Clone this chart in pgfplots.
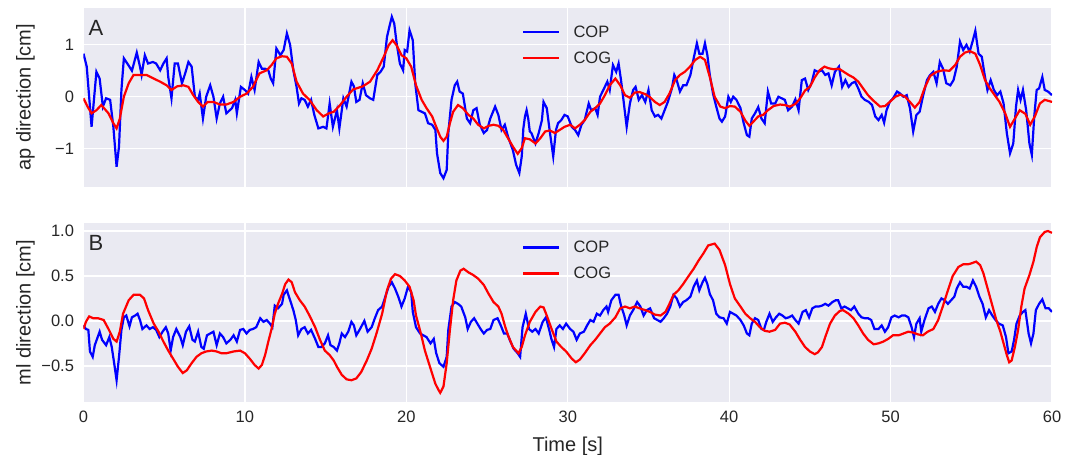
\documentclass[border=0pt]{standalone}
\usepackage{fontspec}
\setmainfont{Liberation Sans}
\usepackage{pgfplots}
\pgfplotsset{compat=1.18}
\definecolor{bg}{HTML}{EAEAF2}
\definecolor{txt}{HTML}{262626}
\pgfplotsset{
 sbstyle/.style={
  width=968.5pt, height=178.5pt, scale only axis,
  xmin=0, xmax=60,
  axis background/.style={fill=bg},
  axis line style={draw=none},
  grid=major, major grid style={white, line width=1.3pt},
  major tick length=0pt,
  tick style={draw=none},
  xtick={0,10,20,30,40,50,60},
  ticklabel style={font=\fontsize{16.5}{19}\selectfont, text=txt},
  yticklabel style={xshift=-6pt},
  xticklabel style={yshift=-6pt},
  label style={font=\fontsize{20}{24}\selectfont, text=txt},
  ylabel style={at={(axis description cs:-0.0599,0.5)}, anchor=center},
  legend style={at={(axis description cs:0.5,1)}, anchor=north, draw=none, fill=none,
    font=\fontsize{16.5}{19}\selectfont, text=txt, inner sep=0pt,
    nodes={inner sep=0pt}, row sep=13pt, column sep=13pt, yshift=-17.5pt, xshift=-1pt},
  legend cell align=left,
  legend image code/.code={\draw[#1] (0pt,0pt) -- (36pt,0pt);},
 },
 cop/.style={blue, line width=2.2pt},
 cog/.style={red, line width=2.2pt},
}
\begin{document}
\begin{tikzpicture}
\useasboundingbox (0,0) rectangle (1076pt,-455pt);
\begin{axis}[sbstyle, at={(83.5pt,-8pt)}, anchor=north west,
  ymin=-1.73, ymax=1.71, ytick={-1,0,1}, yticklabels={−1,0,1},
  xticklabels={,,,,,,},
  ylabel={ap direction [cm]}]
\addplot[cop] coordinates {(0,0.83)(0.2,0.58)(0.5,-0.58)(0.8,0.48)(1.0,0.35)(1.2,-0.19)(1.4,-0.03)(1.65,-0.06)(1.85,-0.58)(2.05,-1.35)(2.2,-0.96)(2.35,0.13)(2.5,0.74)(2.8,0.6)(3.0,0.5)(3.3,0.85)(3.5,0.58)(3.6,0.42)(3.8,0.8)(4.0,0.64)(4.3,0.67)(4.5,0.64)(4.75,0.51)(4.95,0.64)(5.15,0.74)(5.25,0.38)(5.45,-0.03)(5.65,0.64)(5.85,0.64)(6.1,0.26)(6.3,0.45)(6.5,0.67)(6.7,0.58)(6.9,0)(7.1,-0.06)(7.2,0.06)(7.4,-0.42)(7.6,0)(7.85,0.22)(8.05,0)(8.25,-0.42)(8.45,-0.13)(8.65,0)(8.85,-0.32)(9.2,-0.22)(9.4,-0.06)(9.5,-0.32)(9.75,0.19)(10.0,0.13)(10.2,0.06)(10.4,0.38)(10.6,0.13)(10.85,0.67)(11.05,0.54)(11.25,0.54)(11.45,0.51)(11.6,0.35)(11.75,0.26)(11.95,0.93)(12.2,0.8)(12.4,0.9)(12.6,1.22)(12.8,1.0)(13.0,0.51)(13.2,0.19)(13.35,-0.13)(13.5,-0.03)(13.7,-0.06)(13.9,-0.19)(14.1,-0.06)(14.3,-0.35)(14.55,-0.61)(14.85,-0.58)(15.05,-0.61)(15.25,-0.13)(15.45,-0.58)(15.7,-0.26)(15.85,-0.61)(16.1,-0.03)(16.3,-0.19)(16.6,0.29)(16.75,0.2)(16.9,-0.1)(17.1,-0.06)(17.3,0.26)(17.5,0.03)(17.75,-0.03)(17.95,-0.06)(18.2,0.42)(18.4,0.48)(18.6,0.58)(18.8,1.15)(18.95,1.35)(19.1,1.54)(19.25,1.41)(19.4,1.03)(19.6,0.64)(19.8,0.51)(19.9,0.9)(20.05,0.87)(20.2,1.28)(20.4,1.09)(20.55,0.26)(20.75,-0.26)(20.95,-0.29)(21.15,-0.32)(21.35,-0.51)(21.6,-0.54)(21.8,-0.64)(21.9,-1.09)(22.1,-1.47)(22.3,-1.57)(22.5,-1.41)(22.6,-0.7)(22.8,-0.06)(23.0,0.22)(23.15,0.29)(23.3,0.1)(23.5,0.06)(23.75,-0.42)(23.95,-0.51)(24.15,-0.26)(24.35,-0.22)(24.55,-0.54)(24.8,-0.7)(25.0,-0.64)(25.2,-0.42)(25.5,-0.19)(25.7,-0.35)(25.9,-0.64)(26.1,-0.54)(26.3,-0.77)(26.6,-1.03)(26.8,-1.31)(27.0,-1.47)(27.15,-1.15)(27.25,-0.61)(27.35,-0.38)(27.45,-0.26)(27.55,-0.42)(27.65,-0.67)(27.75,-0.7)(28.0,-0.9)(28.2,-0.7)(28.4,-0.45)(28.5,-0.1)(28.7,-0.22)(28.9,-0.7)(29.1,-1.15)(29.27,-0.64)(29.4,-0.51)(29.6,-0.45)(29.8,-0.35)(30.0,-0.38)(30.25,-0.58)(30.45,-0.64)(30.65,-0.74)(30.85,-0.54)(31.05,-0.45)(31.3,-0.13)(31.45,-0.26)(31.7,-0.22)(31.85,-0.35)(32.0,0)(32.25,0.16)(32.45,0.29)(32.6,0.13)(32.8,0.61)(33.0,0.48)(33.15,0.64)(33.3,0.32)(33.45,-0.06)(33.65,-0.58)(33.85,-0.13)(34.05,0.13)(34.2,0.19)(34.4,-0.06)(34.6,0.03)(34.8,-0.1)(35.0,0.13)(35.2,-0.26)(35.4,-0.38)(35.6,-0.35)(35.8,-0.42)(36.0,-0.26)(36.2,-0.1)(36.45,0.16)(36.6,0.42)(36.75,0.32)(36.95,0.1)(37.15,0.22)(37.35,0.22)(37.6,0.42)(37.8,0.74)(38.0,1.03)(38.15,0.83)(38.35,0.83)(38.5,1.03)(38.65,0.8)(38.8,0.42)(39.0,0.06)(39.2,-0.19)(39.4,-0.42)(39.55,-0.48)(39.75,-0.38)(39.95,0)(40.1,-0.1)(40.25,0)(40.45,-0.06)(40.7,-0.22)(40.9,-0.51)(41.1,-0.74)(41.25,-0.77)(41.4,-0.42)(41.6,-0.32)(41.8,-0.2)(42.0,-0.42)(42.2,-0.51)(42.4,0.1)(42.6,-0.13)(42.85,-0.13)(43.05,0)(43.25,-0.03)(43.45,-0.06)(43.65,-0.26)(43.9,-0.19)(44.1,-0.05)(44.3,-0.26)(44.5,0.32)(44.7,0.35)(44.9,0.13)(45.1,0.26)(45.3,0.51)(45.5,0.48)(45.75,0.51)(45.95,0.42)(46.15,0.45)(46.35,0.22)(46.55,0.48)(46.8,0.58)(47.0,0.19)(47.2,0.32)(47.4,0.19)(47.6,0.26)(47.8,0.29)(48.0,0.16)(48.2,0)(48.4,-0.06)(48.65,-0.1)(48.85,-0.16)(49.05,-0.38)(49.25,-0.45)(49.45,-0.35)(49.6,-0.5)(49.75,-0.26)(49.95,-0.1)(50.15,-0.03)(50.4,0.1)(50.6,0.06)(50.8,0)(51.0,0.03)(51.2,-0.22)(51.4,-0.67)(51.6,-0.35)(51.8,-0.29)(52.0,0)(52.25,0.32)(52.45,0.42)(52.65,0.48)(52.85,0.26)(53.05,0.67)(53.25,0.54)(53.45,0.26)(53.7,0.22)(53.9,0.32)(54.1,0.58)(54.3,1.06)(54.5,0.9)(54.7,1.0)(54.9,0.87)(55.1,1.09)(55.25,1.27)(55.45,0.83)(55.65,0.77)(55.85,0.38)(56.0,0.13)(56.2,0.32)(56.4,0.13)(56.6,0.03)(56.8,0.1)(57.0,-0.13)(57.2,-0.7)(57.4,-1.09)(57.6,-0.9)(57.77,-0.19)(57.9,0.13)(58.05,-0.06)(58.2,0.13)(58.4,-0.26)(58.6,-0.9)(58.75,-1.12)(58.9,-0.38)(59.05,0.13)(59.2,0.16)(59.4,0.38)(59.55,0.13)(59.75,0.1)(60.0,0.03)};
\addlegendentry{COP}
\addplot[cog] coordinates {(0,-0.03)(0.25,-0.19)(0.5,-0.32)(0.8,-0.26)(1.1,-0.16)(1.55,-0.32)(1.85,-0.51)(2.05,-0.61)(2.25,-0.42)(2.5,0)(2.8,0.26)(3.1,0.42)(3.5,0.42)(3.9,0.42)(4.35,0.35)(4.75,0.29)(5.15,0.22)(5.45,0.13)(5.8,0.2)(6.2,0.22)(6.5,0.19)(6.8,0.03)(7.1,-0.1)(7.4,-0.19)(7.7,-0.1)(8.05,-0.1)(8.45,-0.15)(8.85,-0.15)(9.3,-0.1)(9.7,0)(10.1,0.06)(10.5,0.19)(10.9,0.45)(11.35,0.51)(11.65,0.61)(11.95,0.74)(12.3,0.78)(12.6,0.77)(12.9,0.64)(13.2,0.29)(13.6,0.06)(14.0,-0.06)(14.45,-0.26)(14.85,-0.38)(15.2,-0.32)(15.5,-0.29)(15.9,-0.16)(16.3,0)(16.7,0.14)(16.9,0.16)(17.3,0.2)(17.75,0.29)(18.2,0.51)(18.6,0.77)(18.9,0.99)(19.15,1.09)(19.4,0.99)(19.7,0.8)(20.0,0.74)(20.3,0.58)(20.6,0.22)(20.95,-0.06)(21.25,-0.22)(21.6,-0.38)(21.85,-0.58)(22.1,-0.77)(22.3,-0.85)(22.5,-0.77)(22.7,-0.51)(22.9,-0.29)(23.2,-0.16)(23.5,-0.22)(23.85,-0.35)(24.15,-0.42)(24.45,-0.54)(24.8,-0.61)(25.1,-0.56)(25.4,-0.54)(25.7,-0.56)(26.0,-0.64)(26.3,-0.8)(26.6,-0.96)(26.9,-1.1)(27.15,-0.99)(27.35,-0.8)(27.65,-0.82)(28.0,-0.9)(28.3,-0.8)(28.6,-0.67)(28.9,-0.65)(29.2,-0.7)(29.5,-0.64)(29.8,-0.58)(30.15,-0.54)(30.45,-0.61)(30.75,-0.54)(31.05,-0.45)(31.4,-0.29)(31.7,-0.22)(32.0,-0.13)(32.3,0.03)(32.6,0.22)(32.95,0.35)(33.25,0.22)(33.55,0.03)(33.85,-0.02)(34.15,0.08)(34.45,0.09)(34.8,0.05)(35.1,-0.01)(35.4,-0.1)(35.7,-0.16)(36.0,-0.1)(36.3,0.06)(36.65,0.32)(36.95,0.42)(37.25,0.48)(37.6,0.59)(37.9,0.71)(38.2,0.77)(38.5,0.71)(38.8,0.38)(39.1,0)(39.45,-0.19)(39.75,-0.22)(40.05,-0.18)(40.35,-0.19)(40.7,-0.29)(41.0,-0.46)(41.25,-0.56)(41.5,-0.48)(41.8,-0.38)(42.1,-0.35)(42.4,-0.26)(42.75,-0.18)(43.15,-0.15)(43.45,-0.16)(43.75,-0.19)(44.1,-0.14)(44.4,-0.03)(44.7,0.12)(45.0,0.19)(45.3,0.37)(45.6,0.51)(45.9,0.58)(46.15,0.55)(46.45,0.53)(46.8,0.54)(47.1,0.48)(47.4,0.42)(47.7,0.37)(48.0,0.29)(48.3,0.16)(48.6,0.03)(48.95,-0.08)(49.35,-0.19)(49.65,-0.18)(49.95,-0.1)(50.3,0)(50.6,0.04)(50.9,0)(51.2,-0.1)(51.5,-0.21)(51.8,-0.1)(52.1,0.16)(52.45,0.4)(52.85,0.48)(53.25,0.51)(53.65,0.5)(54.0,0.61)(54.3,0.77)(54.6,0.85)(54.9,0.88)(55.25,0.83)(55.55,0.61)(55.85,0.32)(56.15,0.16)(56.45,0.03)(56.75,-0.1)(57.1,-0.32)(57.4,-0.58)(57.7,-0.42)(58.0,-0.26)(58.35,-0.33)(58.65,-0.54)(58.95,-0.37)(59.25,-0.13)(59.55,-0.06)(60.0,-0.1)};
\addlegendentry{COG}
\node[anchor=base west, inner sep=0pt, font=\fontsize{22}{26}\selectfont, text=txt] at (axis description cs:0.005,0.845) {A};
\end{axis}
\begin{axis}[sbstyle, at={(83.5pt,-223.3pt)}, anchor=north west,
  ymin=-0.9, ymax=1.086, ytick={-0.5,0,0.5,1}, yticklabels={−0.5,0.0,0.5,1.0},
  xticklabels={0,10,20,30,40,50,60},
  ylabel={ml direction [cm]}, xlabel={Time [s]},
  xlabel style={at={(axis description cs:0.5,-0.276)}, anchor=base}]
\addplot[cop] coordinates {(0,-0.05)(0.15,-0.09)(0.3,-0.1)(0.4,-0.34)(0.57,-0.4)(0.7,-0.27)(0.88,-0.18)(1.0,-0.12)(1.15,-0.21)(1.4,-0.27)(1.6,-0.18)(1.75,-0.29)(1.9,-0.47)(2.05,-0.66)(2.2,-0.4)(2.35,-0.1)(2.5,0.04)(2.65,0.06)(2.85,-0.06)(3.0,0.04)(3.2,0.06)(3.35,0.08)(3.5,0.01)(3.65,-0.09)(3.9,-0.05)(4.1,-0.09)(4.3,-0.07)(4.5,-0.1)(4.7,-0.18)(4.9,-0.12)(5.1,-0.07)(5.25,-0.14)(5.4,-0.33)(5.55,-0.18)(5.75,-0.09)(6.0,-0.18)(6.15,-0.27)(6.35,-0.12)(6.55,-0.06)(6.75,-0.21)(6.9,-0.23)(7.1,-0.12)(7.3,-0.29)(7.45,-0.31)(7.65,-0.16)(7.85,-0.14)(8.05,-0.12)(8.25,-0.27)(8.45,-0.14)(8.65,-0.18)(8.85,-0.25)(9.1,-0.21)(9.3,-0.16)(9.5,-0.23)(9.7,-0.1)(9.9,-0.09)(10.1,-0.14)(10.3,-0.1)(10.5,-0.09)(10.7,-0.07)(10.95,0.03)(11.15,-0.01)(11.35,0.01)(11.55,-0.03)(11.7,-0.07)(11.85,0.17)(12.05,0.14)(12.3,0.19)(12.4,0.29)(12.6,0.34)(12.8,0.23)(13.0,0.12)(13.15,0.01)(13.3,-0.16)(13.5,-0.09)(13.7,-0.07)(13.9,-0.14)(14.1,-0.1)(14.35,-0.2)(14.55,-0.29)(14.75,-0.29)(14.95,-0.25)(15.15,-0.16)(15.3,-0.27)(15.5,-0.29)(15.7,-0.33)(15.85,-0.25)(16.0,-0.14)(16.2,-0.18)(16.4,-0.12)(16.6,-0.01)(16.75,-0.05)(16.9,-0.16)(17.1,-0.1)(17.4,0)(17.6,-0.12)(17.85,-0.07)(18.05,0.03)(18.25,0.12)(18.5,0.16)(18.7,0.27)(18.9,0.38)(19.1,0.43)(19.3,0.36)(19.5,0.27)(19.7,0.16)(19.9,0.25)(20.1,0.38)(20.3,0.32)(20.4,0.1)(20.6,-0.07)(20.85,-0.14)(21.05,-0.16)(21.25,-0.18)(21.5,-0.25)(21.7,-0.2)(21.85,-0.36)(22.05,-0.47)(22.3,-0.51)(22.5,-0.4)(22.6,-0.1)(22.8,0.16)(23.0,0.21)(23.2,0.19)(23.4,0.16)(23.65,0.04)(23.8,-0.09)(24.0,-0.01)(24.2,0.03)(24.4,-0.03)(24.6,-0.09)(24.8,-0.14)(25.0,-0.1)(25.2,-0.09)(25.4,0.01)(25.65,0.03)(25.85,-0.05)(26.05,-0.14)(26.25,-0.14)(26.45,-0.23)(26.65,-0.31)(26.9,-0.36)(27.05,-0.4)(27.2,-0.07)(27.4,0.08)(27.6,-0.09)(27.8,-0.12)(28.0,-0.09)(28.2,-0.14)(28.45,-0.01)(28.65,0.04)(28.85,-0.1)(29.0,-0.21)(29.15,-0.29)(29.3,-0.09)(29.5,-0.05)(29.7,-0.09)(29.9,-0.03)(30.15,-0.09)(30.35,-0.12)(30.55,-0.21)(30.75,-0.14)(31.0,-0.12)(31.2,-0.05)(31.4,0.01)(31.6,-0.01)(31.8,0.08)(32.0,0.06)(32.2,0.12)(32.4,0.16)(32.5,0.1)(32.7,0.23)(32.95,0.29)(33.15,0.29)(33.3,0.17)(33.5,0.06)(33.65,-0.05)(33.85,0.06)(34.05,0.12)(34.3,0.21)(34.5,0.16)(34.7,0.06)(34.9,0.12)(35.1,0.14)(35.35,0.03)(35.55,0.01)(35.75,-0.01)(35.95,0.03)(36.15,0.08)(36.35,0.16)(36.55,0.29)(36.75,0.25)(36.95,0.16)(37.15,0.21)(37.35,0.23)(37.6,0.27)(37.8,0.38)(38.0,0.45)(38.15,0.34)(38.35,0.43)(38.5,0.48)(38.65,0.41)(38.8,0.3)(39.0,0.23)(39.2,0.08)(39.4,0.04)(39.65,0.03)(39.85,-0.03)(40.05,0.1)(40.25,0.08)(40.45,0.06)(40.7,0.01)(40.9,-0.05)(41.1,-0.14)(41.25,-0.16)(41.4,-0.03)(41.6,0.03)(41.8,0.01)(42.0,-0.09)(42.15,-0.1)(42.3,-0.01)(42.5,0.08)(42.7,-0.01)(42.9,0.04)(43.1,0.08)(43.3,0.06)(43.5,0.03)(43.7,0.04)(43.9,0.06)(44.1,0.01)(44.3,-0.03)(44.55,0.1)(44.75,0.12)(44.95,0.04)(45.15,0.14)(45.35,0.16)(45.55,0.16)(45.75,0.17)(45.95,0.19)(46.15,0.17)(46.4,0.21)(46.6,0.23)(46.75,0.23)(46.95,0.14)(47.15,0.16)(47.35,0.14)(47.55,0.12)(47.75,0.16)(48.0,0.08)(48.2,0.04)(48.4,0.03)(48.6,0.03)(48.8,0.01)(49.0,-0.09)(49.25,-0.09)(49.45,-0.05)(49.65,-0.12)(49.85,-0.07)(50.05,0.04)(50.25,0.06)(50.5,0.04)(50.7,0.06)(50.9,0.06)(51.1,0.04)(51.3,-0.07)(51.45,-0.18)(51.6,-0.03)(51.8,0.03)(51.9,-0.12)(52.1,0.01)(52.35,0.14)(52.55,0.16)(52.75,0.1)(52.95,0.19)(53.15,0.25)(53.35,0.23)(53.55,0.19)(53.75,0.23)(53.95,0.27)(54.1,0.36)(54.3,0.43)(54.5,0.38)(54.7,0.38)(54.9,0.36)(55.1,0.45)(55.3,0.38)(55.5,0.27)(55.7,0.19)(55.9,0.04)(56.1,0.12)(56.3,0.06)(56.5,0.01)(56.7,-0.03)(56.95,-0.05)(57.15,-0.18)(57.3,-0.36)(57.5,-0.34)(57.65,-0.21)(57.8,-0.03)(58.0,0.06)(58.2,0.1)(58.35,0.12)(58.55,-0.14)(58.7,-0.25)(58.85,-0.14)(59.0,0.12)(59.2,0.19)(59.4,0.24)(59.6,0.14)(59.8,0.14)(60.0,0.1)};
\addlegendentry{COP}
\addplot[cog] coordinates {(0,-0.09)(0.15,-0.01)(0.35,0.05)(0.6,0.03)(0.9,0.03)(1.25,0.01)(1.55,-0.09)(1.85,-0.2)(2.05,-0.23)(2.25,-0.12)(2.45,0.08)(2.8,0.23)(3.1,0.29)(3.5,0.29)(3.75,0.25)(4.0,0.12)(4.35,-0.03)(4.65,-0.12)(4.95,-0.23)(5.25,-0.33)(5.55,-0.42)(5.85,-0.51)(6.15,-0.58)(6.4,-0.55)(6.7,-0.47)(7.0,-0.4)(7.3,-0.36)(7.6,-0.34)(7.95,-0.33)(8.25,-0.34)(8.55,-0.36)(8.85,-0.36)(9.3,-0.34)(9.7,-0.33)(10.0,-0.36)(10.3,-0.42)(10.6,-0.49)(10.85,-0.53)(11.05,-0.49)(11.25,-0.38)(11.45,-0.23)(11.65,-0.09)(11.85,0.08)(12.05,0.19)(12.3,0.3)(12.5,0.41)(12.7,0.46)(12.9,0.43)(13.1,0.32)(13.4,0.23)(13.7,0.16)(14.0,0.06)(14.35,-0.07)(14.65,-0.21)(14.95,-0.33)(15.25,-0.38)(15.5,-0.44)(15.7,-0.51)(16.0,-0.6)(16.3,-0.65)(16.6,-0.66)(16.9,-0.64)(17.2,-0.57)(17.55,-0.44)(17.85,-0.31)(18.15,-0.14)(18.5,0.08)(18.8,0.34)(19.05,0.47)(19.3,0.52)(19.6,0.5)(19.9,0.45)(20.2,0.38)(20.45,0.23)(20.6,0.06)(20.9,-0.14)(21.15,-0.33)(21.5,-0.53)(21.8,-0.7)(22.0,-0.77)(22.1,-0.8)(22.3,-0.73)(22.5,-0.47)(22.7,-0.1)(22.9,0.23)(23.1,0.45)(23.35,0.56)(23.55,0.58)(23.85,0.54)(24.15,0.51)(24.45,0.47)(24.8,0.4)(25.1,0.3)(25.4,0.21)(25.7,0.16)(25.9,0.08)(26.1,-0.05)(26.3,-0.16)(26.6,-0.29)(26.95,-0.36)(27.15,-0.29)(27.35,-0.16)(27.65,-0.01)(28.0,0.1)(28.3,0.16)(28.5,0.15)(28.7,0.06)(29.0,-0.09)(29.3,-0.23)(29.6,-0.29)(29.9,-0.34)(30.25,-0.42)(30.5,-0.46)(30.75,-0.43)(31.05,-0.36)(31.4,-0.27)(31.7,-0.21)(32.0,-0.14)(32.3,-0.07)(32.6,-0.03)(32.95,0.04)(33.25,0.14)(33.55,0.16)(33.85,0.14)(34.15,0.16)(34.45,0.14)(34.8,0.12)(35.1,0.1)(35.4,0.07)(35.75,0.06)(36.05,0.1)(36.3,0.19)(36.55,0.29)(36.85,0.34)(37.15,0.41)(37.45,0.49)(37.8,0.58)(38.1,0.67)(38.4,0.75)(38.7,0.84)(39.1,0.86)(39.4,0.79)(39.75,0.62)(40.05,0.41)(40.35,0.25)(40.7,0.16)(41.0,0.08)(41.3,0.03)(41.6,-0.01)(41.9,-0.07)(42.2,-0.11)(42.5,-0.12)(42.85,-0.1)(43.15,-0.03)(43.45,-0.02)(43.75,-0.04)(44.1,-0.12)(44.4,-0.21)(44.7,-0.29)(45.0,-0.34)(45.3,-0.37)(45.5,-0.35)(45.75,-0.29)(45.95,-0.18)(46.25,-0.03)(46.55,0.06)(46.85,0.11)(47.05,0.12)(47.4,0.08)(47.7,0.03)(48.0,-0.05)(48.3,-0.14)(48.6,-0.21)(48.95,-0.26)(49.25,-0.25)(49.55,-0.23)(49.85,-0.2)(50.15,-0.16)(50.5,-0.16)(50.8,-0.14)(51.1,-0.12)(51.4,-0.13)(51.7,-0.15)(52.0,-0.16)(52.3,-0.12)(52.65,-0.09)(52.95,0.01)(53.25,0.17)(53.55,0.34)(53.85,0.5)(54.2,0.6)(54.5,0.63)(54.8,0.63)(55.0,0.64)(55.3,0.66)(55.55,0.62)(55.75,0.53)(55.95,0.4)(56.15,0.27)(56.35,0.14)(56.55,0.01)(56.8,-0.12)(57.0,-0.25)(57.2,-0.38)(57.35,-0.46)(57.5,-0.44)(57.7,-0.29)(57.9,-0.1)(58.1,0.16)(58.3,0.36)(58.6,0.51)(58.85,0.66)(59.05,0.82)(59.25,0.93)(59.55,0.99)(59.75,1.0)(60.0,0.98)};
\addlegendentry{COG}
\node[anchor=base west, inner sep=0pt, font=\fontsize{22}{26}\selectfont, text=txt] at (axis description cs:0.005,0.850) {B};
\end{axis}
\end{tikzpicture}
\end{document}
